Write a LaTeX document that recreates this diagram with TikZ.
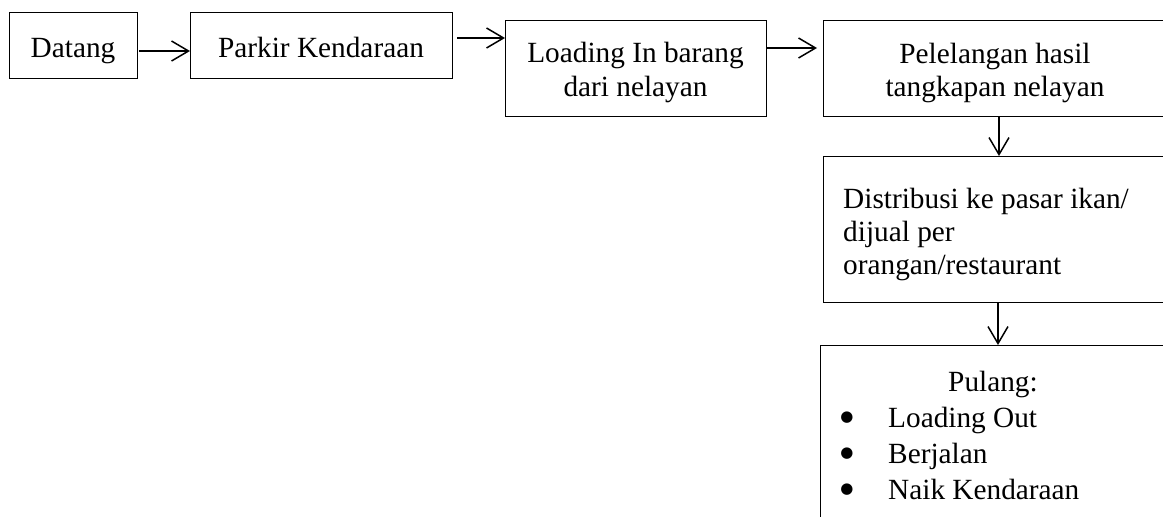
\documentclass[tikz,border=0pt]{standalone}
\usepackage{fontspec}
\setmainfont{Liberation Serif}
\newfontfamily\dejavu{DejaVu Sans}
\usetikzlibrary{arrows.meta,calc}
\begin{document}
\begin{tikzpicture}[x=1pt,y=-1pt,
  box/.style={draw=black,line width=1.4pt,rectangle,inner sep=0pt,anchor=north west},
  lbl/.style={inner sep=0pt,font=\fontsize{29.3}{33.5}\selectfont,align=center},
  bul/.style={inner sep=0pt,font=\dejavu\fontsize{15}{15}\selectfont,anchor=center},
  arr/.style={line width=1.5pt,-{Straight Barb[length=17pt,width=20pt,line width=1.5pt]}}]
\clip (0,0) rectangle (1163,517);
\fill[white] (0,0) rectangle (1163,517);
% boxes
\node[box,minimum width=128pt,minimum height=66pt] (datang) at (9,12) {};
\node[box,minimum width=262pt,minimum height=66pt] (parkir) at (190,12) {};
\node[box,minimum width=261pt,minimum height=96pt] (loading) at (505,20) {};
\node[box,minimum width=348pt,minimum height=96pt] (pel) at (823,20) {};
\node[box,minimum width=348pt,minimum height=146pt] (dist) at (823,156) {};
\node[box,minimum width=346pt,minimum height=200pt] (pul) at (820,345) {};
% texts
\node[lbl,anchor=base] (tdatang) at (73,57) {Datang};
\node[lbl,anchor=base] (tparkir) at (321,57) {Parkir Kendaraan};
\node[lbl,anchor=base] (tload1) at (635.5,62) {Loading In barang};
\node[lbl,anchor=base] (tload2) at (635.5,96) {dari nelayan};
\node[lbl,anchor=base] (tpel1) at (995,63) {Pelelangan hasil};
\node[lbl,anchor=base] (tpel2) at (995,96) {tangkapan nelayan};
\node[lbl,anchor=base west] (tdist1) at (843,208) {Distribusi ke pasar ikan/};
\node[lbl,anchor=base west] (tdist2) at (843,241) {dijual per};
\node[lbl,anchor=base west] (tdist3) at (843,274) {orangan/restaurant};
\node[lbl,anchor=base] (tpul) at (993,391) {Pulang:};
\node[bul] (b1) at (847,418) {●};
\node[bul] (b2) at (847,454) {●};
\node[bul] (b3) at (847,490) {●};
\node[lbl,anchor=base west] (i1) at (888,427) {Loading Out};
\node[lbl,anchor=base west] (i2) at (888,463) {Berjalan};
\node[lbl,anchor=base west] (i3) at (888,499) {Naik Kendaraan};
% connectors
\draw[arr] ($(datang.north east)+(1,39)$) -- ($(parkir.north west)+(0,39)$);
\draw[arr] ($(parkir.north east)+(4,26)$) -- ($(loading.north west)+(0,18)$);
\draw[arr] ($(loading.north east)+(0,28)$) -- ($(pel.north west)+(-6,28)$);
\draw[arr] ($(pel.south west)+(176,0)$) -- ($(dist.north west)+(176,0)$);
\draw[arr] ($(dist.south west)+(175,0)$) -- ($(pul.north west)+(178,0)$);
\end{tikzpicture}
\end{document}
